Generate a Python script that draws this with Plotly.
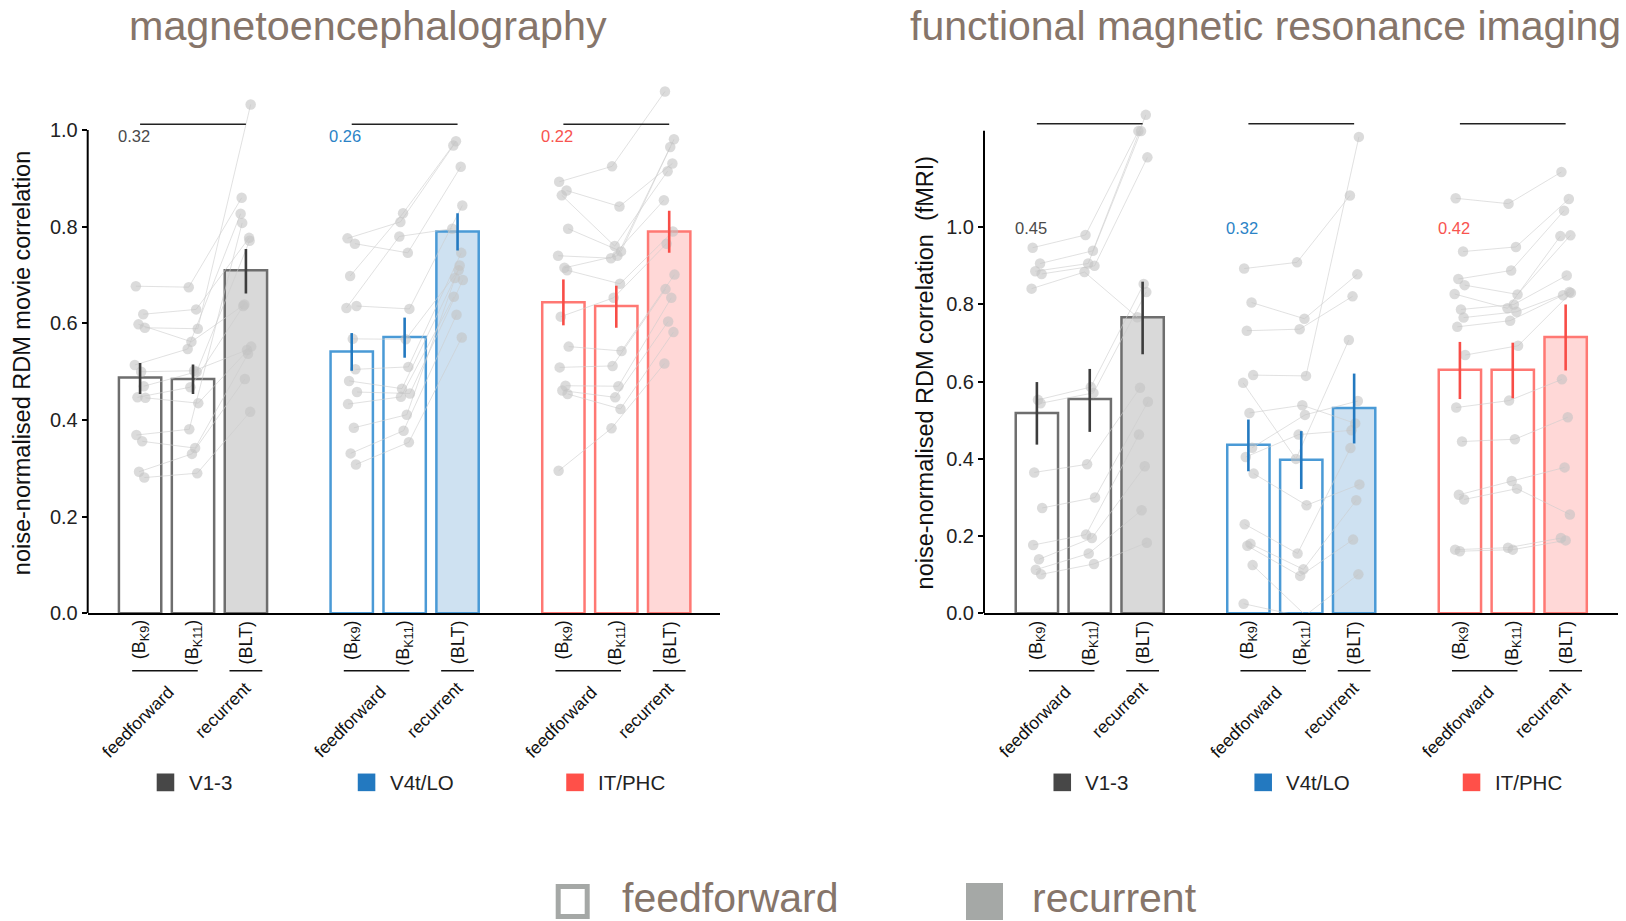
import plotly.graph_objects as go

# ---------------- data ----------------
MODELS = ["(B<sub>K9</sub>)", "(B<sub>K11</sub>)", "(BLT)"]
REGIONS = ["V1-3", "V4t/LO", "IT/PHC"]
PANEL_TITLES = ["magnetoencephalography", "functional magnetic resonance imaging"]
Y_TITLES = ["noise-normalised RDM movie correlation", "noise-normalised RDM correlation  (fMRI)"]

MEG_MEAN = [[0.488, 0.485, 0.710], [0.542, 0.572, 0.790], [0.644, 0.636, 0.790]]
MEG_LO = [[0.454, 0.454, 0.662], [0.502, 0.529, 0.751], [0.596, 0.591, 0.746]]
MEG_HI = [[0.518, 0.515, 0.754], [0.580, 0.612, 0.828], [0.691, 0.678, 0.833]]
MEG_CEIL = ["0.32", "0.26", "0.22"]

FMRI_MEAN = [[0.519, 0.555, 0.767], [0.437, 0.398, 0.532], [0.631, 0.631, 0.716]]
FMRI_LO = [[0.437, 0.470, 0.671], [0.368, 0.322, 0.440], [0.555, 0.557, 0.629]]
FMRI_HI = [[0.599, 0.633, 0.859], [0.502, 0.472, 0.621], [0.703, 0.701, 0.800]]
FMRI_CEIL = ["0.45", "0.32", "0.42"]

# per-subject values: [B_K9, B_K11, BLT]
MEG_V13 = [
    [0.677, 0.619, 0.598, 0.591, 0.514, 0.500, 0.470, 0.447, 0.446, 0.369, 0.356, 0.293, 0.281],
    [0.675, 0.629, 0.562, 0.589, 0.547, 0.502, 0.500, 0.468, 0.435, 0.381, 0.342, 0.330, 0.290],
    [0.860, 0.777, 0.639, 1.053, 0.827, 0.545, 0.771, 0.636, 0.552, 0.808, 0.537, 0.485, 0.417],
]
MEG_V4 = [
    [0.776, 0.765, 0.698, 0.636, 0.632, 0.568, 0.505, 0.481, 0.458, 0.433, 0.384, 0.331, 0.308],
    [0.810, 0.746, 0.828, 0.630, 0.780, 0.567, 0.510, 0.465, 0.455, 0.448, 0.411, 0.378, 0.354],
    [0.968, 0.924, 0.977, 0.844, 0.796, 0.710, 0.746, 0.694, 0.690, 0.655, 0.720, 0.618, 0.571],
]
MEG_IT = [
    [0.893, 0.875, 0.865, 0.796, 0.740, 0.715, 0.710, 0.614, 0.552, 0.509, 0.471, 0.461, 0.454, 0.295],
    [0.925, 0.842, 0.760, 0.749, 0.735, 0.740, 0.682, 0.653, 0.543, 0.512, 0.470, 0.447, 0.423, 0.383],
    [1.080, 0.931, 0.915, 0.981, 0.855, 0.965, 0.790, 0.765, 0.701, 0.671, 0.653, 0.604, 0.582, 0.517],
]
FMRI_V13 = [
    [0.947, 0.906, 0.886, 0.879, 0.841, 0.553, 0.544, 0.365, 0.273, 0.177, 0.140, 0.113, 0.101],
    [0.980, 0.939, 0.906, 0.900, 0.884, 0.586, 0.571, 0.386, 0.300, 0.204, 0.195, 0.155, 0.128],
    [1.249, 1.291, 1.249, 1.181, 0.767, 0.853, 0.832, 0.584, 0.548, 0.463, 0.381, 0.267, 0.183],
]
FMRI_V4 = [
    [0.893, 0.805, 0.732, 0.617, 0.597, 0.519, 0.429, 0.405, 0.362, 0.231, 0.180, 0.175, 0.125, 0.025],
    [0.909, 0.763, 0.736, 0.615, 0.400, 0.539, 0.514, 0.463, 0.280, 0.155, 0.114, 0.097, -0.005, -0.005],
    [1.082, 0.878, 0.821, 1.234, 0.708, 0.492, 0.550, 0.474, 0.334, 0.428, 0.293, 0.191, 0.101, -0.002],
]
FMRI_IT = [
    [1.075, 0.937, 0.866, 0.850, 0.827, 0.787, 0.766, 0.742, 0.669, 0.533, 0.445, 0.307, 0.295, 0.165, 0.161],
    [1.061, 0.949, 0.888, 0.826, 0.790, 0.800, 0.781, 0.758, 0.693, 0.551, 0.451, 0.343, 0.323, 0.170, 0.165],
    [1.143, 1.073, 1.043, 0.979, 0.977, 0.875, 0.832, 0.824, 0.830, 0.606, 0.508, 0.378, 0.256, 0.195, 0.189],
]

# ---------------- styles ----------------
JITTER = [-0.08, 0.06, -0.03, 0.09, -0.10, 0.02, 0.07, -0.05, 0.10, -0.07, 0.04, -0.02, 0.08, -0.09, 0.0]
OUTLINE = ["#6e6e6e", "#4a9ad6", "#ff7873"]
FILL = ["#d9d9d9", "#cee1f1", "#ffd8d7"]
ERRC = ["#3d3d3d", "#2379c0", "#f84d47"]
CEILC = ["#4a4a4a", "#2b83c6", "#f8544f"]
LEGC = ["#474747", "#2379c0", "#ff5049"]
TITLE_C = "#86756a"
FONT = "Liberation Sans, Arial, Helvetica, sans-serif"
REF_W, REF_H = 1626, 921
W, H = 1626, 933  # figure height; layout positions below are fractions of the reference frame

POS = [4 * g + k for g in range(3) for k in range(3)]

fig = go.Figure()
shapes = []
annotations = []


def X(px):
    return px / REF_W


def Y(px):
    return 1 - px / REF_H


def add_panel(xa, ya, means, los, his, ceils, subjects, bracket_y, ceil_y, axis_top):
    ys = [m for grp in means for m in grp]
    fills, lines = [], []
    for g in range(3):
        for k in range(3):
            fills.append(FILL[g] if k == 2 else "rgba(255,255,255,0)")
            lines.append(OUTLINE[g])
    fig.add_trace(go.Bar(x=POS, y=ys, width=0.8, xaxis=xa, yaxis=ya,
                         marker=dict(color=fills, line=dict(color=lines, width=2.5)),
                         showlegend=False, hoverinfo="skip"))
    for g in range(3):
        subj = subjects[g]
        n = len(subj[0])
        lx, ly, mx, my = [], [], [], []
        for i in range(n):
            j = JITTER[i % len(JITTER)]
            for k in range(3):
                lx.append(4 * g + k + j)
                ly.append(subj[k][i])
                mx.append(4 * g + k + j)
                my.append(subj[k][i])
            lx.append(None)
            ly.append(None)
        fig.add_trace(go.Scatter(x=lx, y=ly, mode="lines", xaxis=xa, yaxis=ya,
                                 line=dict(color="rgba(205,205,205,0.6)", width=1),
                                 showlegend=False, hoverinfo="skip"))
        fig.add_trace(go.Scatter(x=mx, y=my, mode="markers", xaxis=xa, yaxis=ya, cliponaxis=False,
                                 marker=dict(size=10.5, color="rgba(195,195,195,0.6)"),
                                 showlegend=False, hoverinfo="skip"))
    for g in range(3):
        fig.add_trace(go.Scatter(
            x=[4 * g + k for k in range(3)], y=means[g], mode="markers", xaxis=xa, yaxis=ya,
            marker=dict(size=1, color="rgba(0,0,0,0)"),
            error_y=dict(type="data", symmetric=False,
                         array=[his[g][k] - means[g][k] for k in range(3)],
                         arrayminus=[means[g][k] - los[g][k] for k in range(3)],
                         color=ERRC[g], thickness=2.6, width=0),
            showlegend=False, hoverinfo="skip"))
    xr = "x" if xa == "x" else "x2"
    yr = "y" if ya == "y" else "y2"
    shapes.append(dict(type="line", xref=xr + " domain", yref=yr, x0=0, x1=0, y0=0, y1=axis_top,
                       line=dict(color="black", width=2)))
    for g in range(3):
        base = 4 * g
        shapes.append(dict(type="line", xref=xr, yref=yr, x0=base, x1=base + 2,
                           y0=bracket_y, y1=bracket_y, line=dict(color="#222", width=1.6)))
        annotations.append(dict(xref=xr, yref=yr, x=base - 0.12, y=ceil_y, text=ceils[g],
                                showarrow=False, font=dict(family=FONT, size=16.5, color=CEILC[g])))
        for k in range(3):
            annotations.append(dict(xref=xr, yref="paper", x=base + k, y=Y(618), text=MODELS[k],
                                    textangle=-90, xanchor="center", yanchor="top", showarrow=False,
                                    font=dict(family=FONT, size=18, color="#111")))
        shapes.append(dict(type="line", xref=xr, yref="paper", x0=base - 0.15, x1=base + 1.09,
                           y0=Y(670), y1=Y(670), line=dict(color="#111", width=1.4)))
        shapes.append(dict(type="line", xref=xr, yref="paper", x0=base + 2 - 0.31, x1=base + 2.31,
                           y0=Y(670), y1=Y(670), line=dict(color="#111", width=1.4)))
        annotations.append(dict(xref=xr, yref="paper", x=base + 0.76, y=Y(679), text="feedforward",
                                textangle=-45, xanchor="right", yanchor="top", showarrow=False,
                                font=dict(family=FONT, size=17.5, color="#111")))
        annotations.append(dict(xref=xr, yref="paper", x=base + 2.22, y=Y(675), text="recurrent",
                                textangle=-45, xanchor="right", yanchor="top", showarrow=False,
                                font=dict(family=FONT, size=17.5, color="#111")))
    for g, off in enumerate([0.48, 4.28, 8.22]):
        shapes.append(dict(type="rect", xref=xr, yref="paper", x0=off - 0.166, x1=off + 0.166,
                           y0=Y(790.3), y1=Y(772.7), fillcolor=LEGC[g], line=dict(width=0)))
        annotations.append(dict(xref=xr, yref="paper", x=off + 0.40, y=Y(782), text=REGIONS[g],
                                xanchor="left", yanchor="middle", showarrow=False,
                                font=dict(family=FONT, size=20.5, color="#222")))


add_panel("x", "y", MEG_MEAN, MEG_LO, MEG_HI, MEG_CEIL, [MEG_V13, MEG_V4, MEG_IT], 1.012, 0.988, 1.0)
add_panel("x2", "y2", FMRI_MEAN, FMRI_LO, FMRI_HI, FMRI_CEIL, [FMRI_V13, FMRI_V4, FMRI_IT], 1.268, 0.997, 1.25)

annotations.append(dict(xref="paper", yref="paper", x=X(367.6), y=Y(26), text=PANEL_TITLES[0],
                        showarrow=False, xanchor="center", yanchor="middle",
                        font=dict(family=FONT, size=41.3, color=TITLE_C)))
annotations.append(dict(xref="paper", yref="paper", x=X(1265), y=Y(26), text=PANEL_TITLES[1],
                        showarrow=False, xanchor="center", yanchor="middle",
                        font=dict(family=FONT, size=41, color=TITLE_C)))
annotations.append(dict(xref="paper", yref="paper", x=X(22.8), y=Y(363), text=Y_TITLES[0],
                        showarrow=False, textangle=-90, xanchor="center", yanchor="middle",
                        font=dict(family=FONT, size=23.5, color="#111")))
annotations.append(dict(xref="paper", yref="paper", x=X(925), y=Y(372), text=Y_TITLES[1],
                        showarrow=False, textangle=-90, xanchor="center", yanchor="middle",
                        font=dict(family=FONT, size=23.5, color="#111")))

shapes.append(dict(type="rect", xref="paper", yref="paper", x0=X(558.2), x1=X(587.2),
                   y0=Y(915.5), y1=Y(885.5), fillcolor="white", line=dict(color="#a5a8a6", width=5)))
shapes.append(dict(type="rect", xref="paper", yref="paper", x0=X(966), x1=X(1003),
                   y0=Y(919), y1=Y(882), fillcolor="#a5a8a6", line=dict(width=0)))
annotations.append(dict(xref="paper", yref="paper", x=X(621), y=Y(897.5), text="feedforward",
                        showarrow=False, xanchor="left", yanchor="middle", borderpad=0,
                        font=dict(family=FONT, size=41, color=TITLE_C)))
annotations.append(dict(xref="paper", yref="paper", x=X(1031), y=Y(897.5), text="recurrent",
                        showarrow=False, xanchor="left", yanchor="middle", borderpad=0,
                        font=dict(family=FONT, size=41, color=TITLE_C)))

ytick_vals = [0, 0.2, 0.4, 0.6, 0.8, 1.0]
ytick_text = ["0.0", "0.2", "0.4", "0.6", "0.8", "1.0"]
common_x = dict(showline=True, linecolor="black", linewidth=2, showticklabels=False, ticks="",
                showgrid=False, zeroline=False, fixedrange=True)
common_y = dict(showline=False, tickvals=ytick_vals, ticktext=ytick_text, ticks="outside", ticklen=5,
                tickwidth=1.5, tickcolor="black", showgrid=False, zeroline=False,
                tickfont=dict(family=FONT, size=20, color="#222"))

fig.update_layout(
    width=W, height=H, margin=dict(l=0, r=0, t=0, b=0),
    paper_bgcolor="white", plot_bgcolor="white", showlegend=False,
    font=dict(family=FONT),
    xaxis=dict(domain=[X(87.7), X(720)], range=[-0.99, 10.96], anchor="y", **common_x),
    yaxis=dict(domain=[Y(612.7), Y(67.2)], range=[0, 1.13], anchor="x", **common_y),
    xaxis2=dict(domain=[X(984), X(1618)], range=[-1.0, 10.99], anchor="y2", **common_x),
    yaxis2=dict(domain=[Y(612.7), Y(99.7)], range=[0, 1.33], anchor="x2", **common_y),
    shapes=shapes, annotations=annotations,
)

fig.write_html("out.html", config={"displayModeBar": False},
               post_script="document.body.style.margin='0';document.body.style.overflow='hidden';")
